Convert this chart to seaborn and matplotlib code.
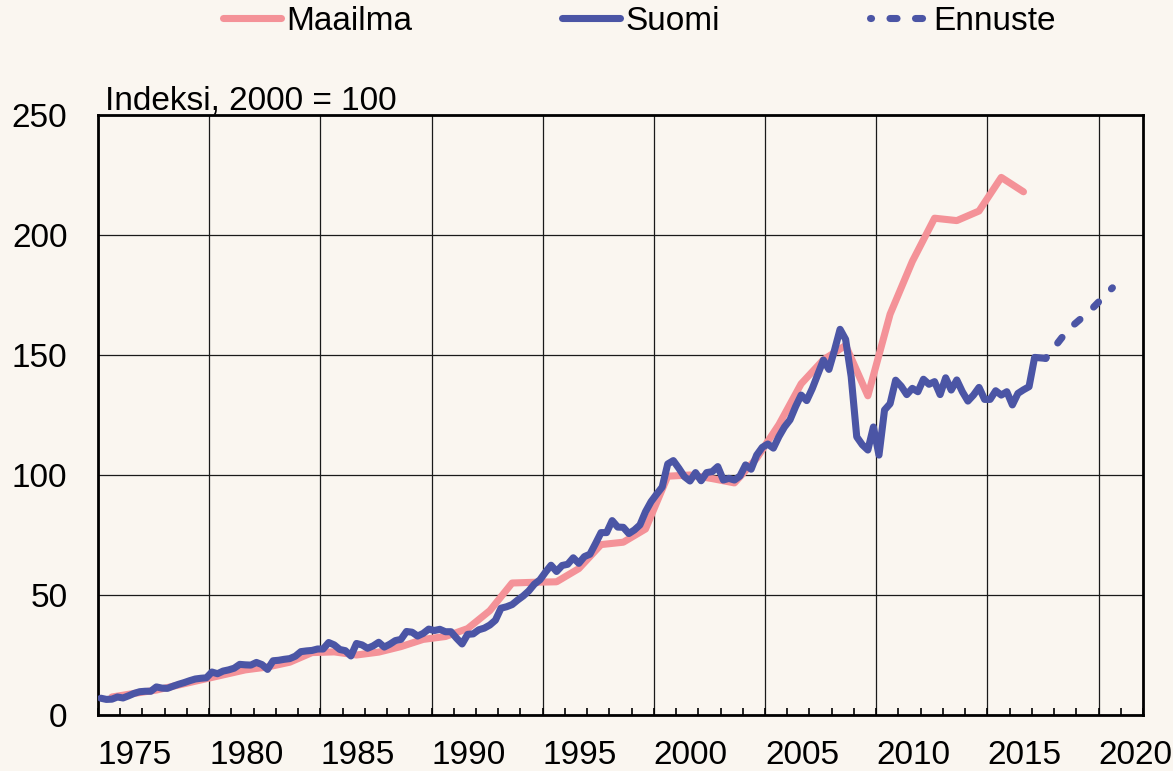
import numpy as np
import pandas as pd
import matplotlib
matplotlib.use("Agg")
import matplotlib.pyplot as plt
import seaborn as sns

# Maailma: annual index, 1975-2016 (2000 = 100)
maailma_vuodet = list(range(1975, 2017))
maailma = [7.5, 9.0, 10.4, 12.5, 14.6, 16.7, 18.8, 20.0, 22.0, 26.0,
           26.3, 25.0, 26.2, 28.5, 31.5, 32.7, 36.0, 43.5, 55.0, 55.3,
           55.5, 61.0, 71.0, 72.0, 77.5, 99.5, 100.0, 98.5, 96.7, 107.0,
           121.0, 138.0, 148.0, 154.0, 133.0, 167.0, 189.0, 207.0, 206.0, 210.0,
           224.0, 218.0]

# Suomi: quarterly index, 1975Q1 - 2017Q3
suomi_alku = 1975
suomi = [
    7.0, 6.5, 6.6, 7.5,        # 1975
    7.1, 8.0, 9.0, 9.7,        # 1976
    9.9, 9.9, 11.7, 11.2,      # 1977
    11.1, 12.0, 12.8, 13.5,    # 1978
    14.3, 15.0, 15.3, 15.5,    # 1979
    17.9, 17.2, 18.3, 18.8,    # 1980
    19.5, 21.1, 20.9, 20.8,    # 1981
    21.9, 21.0, 19.0, 22.6,    # 1982
    22.8, 23.2, 23.5, 24.5,    # 1983
    26.4, 26.7, 26.9, 27.5,    # 1984
    27.5, 30.2, 29.2, 27.3,    # 1985
    26.8, 24.6, 29.8, 29.2,    # 1986
    27.8, 28.8, 30.3, 28.3,    # 1987
    29.5, 31.0, 31.5, 34.8,    # 1988
    34.5, 32.9, 34.0, 35.8,    # 1989
    35.2, 35.7, 34.7, 34.7,    # 1990
    32.0, 29.6, 33.6, 33.8,    # 1991
    35.5, 36.2, 37.5, 39.5,    # 1992
    44.5, 45.1, 46.0, 47.9,    # 1993
    49.6, 51.7, 54.5, 56.3,    # 1994
    59.5, 62.4, 59.8, 62.3,    # 1995
    62.8, 65.5, 63.2, 66.0,    # 1996
    67.0, 71.4, 76.0, 76.0,    # 1997
    81.0, 78.3, 78.2, 75.6,    # 1998
    77.1, 79.2, 84.7, 88.9,    # 1999
    92.0, 95.0, 104.6, 106.0,  # 2000
    102.8, 99.3, 97.5, 101.0,  # 2001
    97.6, 101.0, 101.4, 103.5, # 2002
    97.9, 98.6, 97.9, 99.6,    # 2003
    104.2, 102.4, 108.3, 111.5,  # 2004
    112.9, 111.2, 116.0, 120.0,  # 2005
    123.0, 128.5, 133.3, 131.0,  # 2006
    136.0, 142.0, 147.9, 144.0,  # 2007
    152.0, 160.7, 156.5, 141.0,  # 2008
    115.9, 112.6, 110.4, 120.0,  # 2009
    108.3, 127.1, 129.7, 139.5,  # 2010
    137.0, 133.5, 136.1, 134.7,  # 2011
    139.9, 137.8, 138.9, 133.5,  # 2012
    140.5, 135.4, 139.6, 134.7,  # 2013
    130.8, 133.3, 136.5, 131.5,  # 2014
    131.5, 135.1, 133.3, 134.7,  # 2015
    129.2, 134.0, 135.5, 136.8,  # 2016
    149.0, 148.8, 148.6,         # 2017
]

# Ennuste: annual forecast 2017-2020
ennuste_vuodet = [2017, 2018, 2019, 2020]
ennuste = [148.6, 160.5, 168.5, 178.0]

x_ticks = [1975, 1980, 1985, 1990, 1995, 2000, 2005, 2010, 2015, 2020]
y_ticks = [0, 50, 100, 150, 200, 250]

bg = "#FAF6F0"
pink = "#F49298"
blue = "#4B55A5"

sns.set_theme(style="white")
plt.rcParams["font.family"] = ["Liberation Sans", "DejaVu Sans"]
plt.rcParams["text.color"] = "black"
plt.rcParams["xtick.color"] = "black"
plt.rcParams["ytick.color"] = "black"
plt.rcParams["axes.labelcolor"] = "black"

df_m = pd.DataFrame({"aika": np.array(maailma_vuodet) + 0.625, "arvo": maailma})
df_s = pd.DataFrame({"aika": suomi_alku + (np.arange(len(suomi)) + 0.5) / 4, "arvo": suomi})
df_e = pd.DataFrame({"aika": np.array(ennuste_vuodet) + 0.625, "arvo": ennuste})

fig, ax = plt.subplots(figsize=(11.73, 7.71), dpi=100)
fig.patch.set_facecolor(bg)
ax.set_facecolor(bg)
fig.subplots_adjust(left=98/1173, right=1143/1173, bottom=1-715/771, top=1-115/771)

sns.lineplot(data=df_m, x="aika", y="arvo", ax=ax, color=pink, linewidth=5.1,
             label="Maailma", zorder=3)
sns.lineplot(data=df_s, x="aika", y="arvo", ax=ax, color=blue, linewidth=5.1,
             label="Suomi", zorder=4)
sns.lineplot(data=df_e, x="aika", y="arvo", ax=ax, color=blue, linewidth=5.1,
             linestyle=(0.85, (1.0, 2.6)), dash_capstyle="round",
             label="Ennuste", zorder=4)

handles, labels = ax.get_legend_handles_labels()
if ax.get_legend() is not None:
    ax.get_legend().remove()

ax.set_xlim(1975, 2022)
ax.set_ylim(0, 250)
ax.set_xticks(x_ticks)
ax.set_xticklabels([str(v) for v in x_ticks])
for lab in ax.get_xticklabels():
    lab.set_horizontalalignment("left")
ax.set_xticks(np.arange(1975, 2023, 1), minor=True)
ax.set_yticks(y_ticks)
ax.set_xlabel("")
ax.set_ylabel("")

ax.grid(True, which="major", color="#1a1a1a", linewidth=0.9)
ax.set_axisbelow(True)
ax.tick_params(axis="x", which="both", direction="in", length=5, width=1.2,
               color="black", labelcolor="black", labelsize=24, pad=18, bottom=True)
ax.tick_params(axis="y", length=0, labelsize=24, labelcolor="black", pad=22)
for s in ax.spines.values():
    s.set_visible(True)
    s.set_color("black")
    s.set_linewidth(2)

fig.text(105/1173, 1-109/771, "Indeksi, 2000 = 100", fontsize=24,
         color="black", ha="left", va="baseline")

fig.legend(handles, labels, loc="center", bbox_to_anchor=(0.545, 0.972), ncol=3,
           frameon=False, fontsize=24, labelcolor="black", handlelength=1.75,
           handletextpad=0.15, columnspacing=4.5)

plt.savefig("out.png", dpi=100, facecolor=bg)
